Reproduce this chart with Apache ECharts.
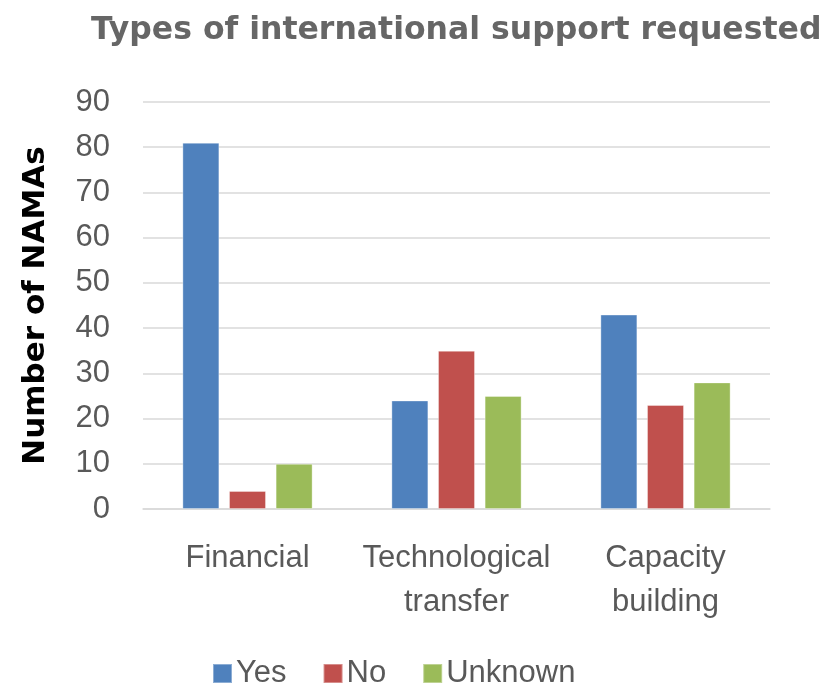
<!DOCTYPE html>
<html>
<head>
<meta charset="utf-8">
<script src="https://cdn.jsdelivr.net/npm/echarts@6/dist/echarts.min.js"></script>
<style>
  html, body { margin: 0; padding: 0; background: #fff; }
  #chart { width: 836px; height: 695px; }
</style>
</head>
<body>
<div id="chart"></div>
<script>
// Support types on the x axis, one bar per answer in each group
const categories = ['Financial', 'Technological\ntransfer', 'Capacity\nbuilding'];
const seriesNames = ['Yes', 'No', 'Unknown'];
const yesValues = [81, 24, 43];
const noValues = [4, 35, 23];
const unknownValues = [10, 25, 28];
const yTicks = [0, 10, 20, 30, 40, 50, 60, 70, 80, 90];

const colors = ['#4F81BD', '#C0504D', '#9BBB59'];
const valueSets = [yesValues, noValues, unknownValues];
const labelFont = '"Liberation Sans", Arial, sans-serif';
const boldFont = '"DejaVu Sans", Verdana, sans-serif';

const chart = echarts.init(document.getElementById('chart'), null, { renderer: 'canvas' });

chart.setOption({
  animation: false,
  title: {
    text: 'Types of international support requested',
    left: 86,
    top: 10,
    textStyle: {
      fontFamily: boldFont,
      fontWeight: 'bold',
      fontSize: 31.5,
      color: '#666666'
    }
  },
  legend: {
    data: seriesNames,
    bottom: 1,
    left: 207,
    itemWidth: 19,
    itemHeight: 19,
    itemGap: 36,
    icon: 'rect',
    textStyle: { fontFamily: labelFont, fontSize: 31, color: '#595959', padding: [0, 0, 0, -1] }
  },
  grid: { left: 143, right: 66, top: 102, bottom: 186 },
  xAxis: {
    type: 'category',
    data: categories,
    axisLine: { show: true, lineStyle: { color: '#D9D9D9', width: 1.5 } },
    axisTick: { show: false },
    axisLabel: {
      interval: 0,
      fontFamily: labelFont,
      fontSize: 31,
      color: '#595959',
      margin: 27,
      lineHeight: 44
    }
  },
  yAxis: {
    type: 'value',
    min: yTicks[0],
    max: yTicks[yTicks.length - 1],
    interval: 10,
    name: 'Number of NAMAs',
    nameLocation: 'middle',
    nameGap: 92,
    nameTextStyle: {
      fontFamily: boldFont,
      fontWeight: 'bold',
      fontSize: 31,
      color: '#000000'
    },
    axisLine: { show: false },
    axisTick: { show: false },
    splitLine: { lineStyle: { color: '#D9D9D9', width: 1.5 } },
    axisLabel: {
      fontFamily: labelFont,
      fontSize: 31,
      color: '#595959',
      margin: 33
    }
  },
  series: seriesNames.map((name, i) => ({
    name: name,
    type: 'bar',
    data: valueSets[i],
    barWidth: 37,
    barGap: '26%',
    itemStyle: {
      color: colors[i],
      borderColor: 'rgba(255,255,255,0.35)',
      borderWidth: 1
    }
  }))
});
</script>
</body>
</html>
